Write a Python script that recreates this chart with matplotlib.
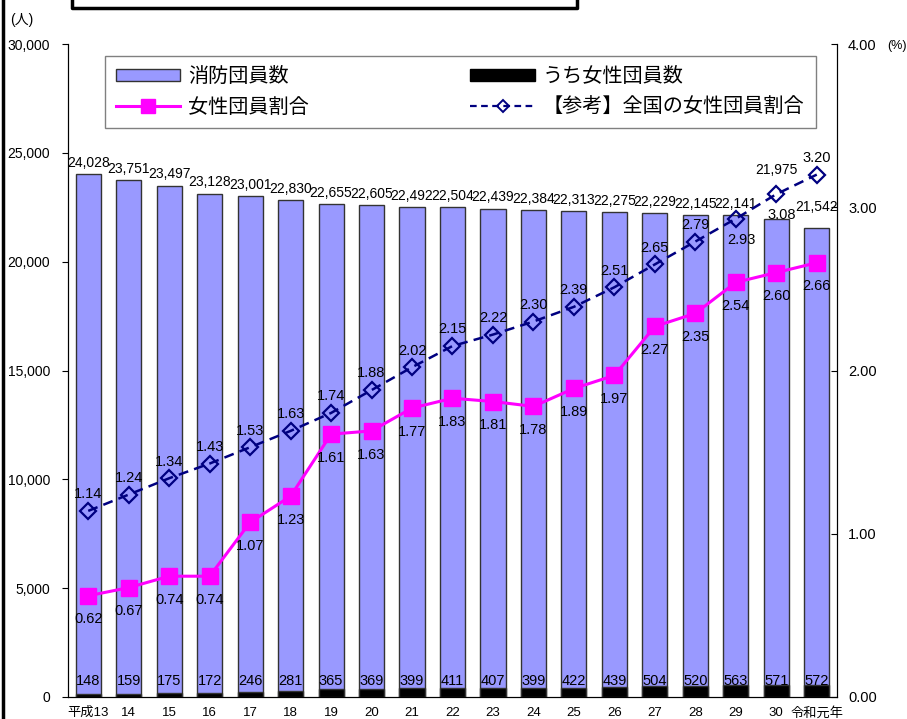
import matplotlib.pyplot as plt
from matplotlib.patches import Patch
from matplotlib.lines import Line2D

plt.rcParams['font.family'] = ['Liberation Sans', 'Noto Sans CJK JP']

# data
years = ['平成13', '14', '15', '16', '17', '18', '19', '20', '21', '22',
         '23', '24', '25', '26', '27', '28', '29', '30', '令和元年']
members = [24028, 23751, 23497, 23128, 23001, 22830, 22655, 22605, 22492, 22504,
           22439, 22384, 22313, 22275, 22229, 22145, 22141, 21975, 21542]
women = [148, 159, 175, 172, 246, 281, 365, 369, 399, 411,
         407, 399, 422, 439, 504, 520, 563, 571, 572]
women_ratio = [0.62, 0.67, 0.74, 0.74, 1.07, 1.23, 1.61, 1.63, 1.77, 1.83,
               1.81, 1.78, 1.89, 1.97, 2.27, 2.35, 2.54, 2.60, 2.66]
national_ratio = [1.14, 1.24, 1.34, 1.43, 1.53, 1.63, 1.74, 1.88, 2.02, 2.15,
                  2.22, 2.30, 2.39, 2.51, 2.65, 2.79, 2.93, 3.08, 3.20]

x = list(range(len(years)))

fig = plt.figure(figsize=(9.07, 7.19), dpi=100)
ax = fig.add_axes([68/907, 1 - 697/719, 769/907, 653/719])

ax.bar(x, members, width=0.62, color='#9999FF', edgecolor='#333333', linewidth=1)
ax.bar(x, women, width=0.62, color='black', edgecolor='#333333', linewidth=1)
ax.set_xlim(-0.5, len(years) - 0.5)
ax.set_ylim(0, 30000)
ax.set_yticks(range(0, 30001, 5000))
ax.set_yticklabels([f'{v:,}' for v in range(0, 30001, 5000)], fontsize=10)
ax.tick_params(axis='y', direction='out', length=4, pad=9)
ax.set_xticks(x)
ax.set_xticklabels(years, fontsize=9.5)
ax.tick_params(axis='x', length=0, pad=7)
ax.spines['top'].set_visible(False)

# total labels above bars
for i, v in enumerate(members):
    dy = 3
    if i == 17:
        dy = 30
    elif i == 18:
        dy = 10
    ax.annotate(f'{v:,}', (i, v), xytext=(0, dy), textcoords='offset points',
                ha='center', va='bottom', fontsize=10)
# women count labels near bottom
for i, v in enumerate(women):
    ax.text(i, 750, str(v), ha='center', va='center', fontsize=10.5)

ax2 = ax.twinx()
ax2.set_ylim(0, 4)
ax2.set_yticks([0, 1, 2, 3, 4])
ax2.set_yticklabels(['0.00', '1.00', '2.00', '3.00', '4.00'], fontsize=10.5)
ax2.tick_params(axis='y', direction='in', length=4, pad=8)
ax2.spines['top'].set_visible(False)

ax2.plot(x, women_ratio, color='#FF00FF', linewidth=2.2, marker='s', markersize=11,
         markerfacecolor='#FF00FF', markeredgecolor='#FF00FF')
ax2.plot(x, national_ratio, color='#000080', linewidth=1.8, linestyle=(0, (4, 2.5)),
         marker='D', markersize=8, markerfacecolor='none', markeredgecolor='#000080',
         markeredgewidth=1.6)

for i, v in enumerate(women_ratio):
    ax2.annotate(f'{v:.2f}', (i, v), xytext=(0, -12), textcoords='offset points',
                 ha='center', va='top', fontsize=10.5)
for i, v in enumerate(national_ratio):
    if i in (16, 17):
        ax2.annotate(f'{v:.2f}', (i, v), xytext=(4, -10), textcoords='offset points',
                     ha='center', va='top', fontsize=10.5)
    else:
        ax2.annotate(f'{v:.2f}', (i, v), xytext=(0, 7), textcoords='offset points',
                     ha='center', va='bottom', fontsize=10.5)

handles = [Patch(facecolor='#9999FF', edgecolor='#333333'),
           Line2D([], [], color='#FF00FF', linewidth=2.2, marker='s', markersize=10),
           Patch(facecolor='black', edgecolor='black'),
           Line2D([], [], color='#000080', linewidth=1.6, linestyle=(0, (3, 2)),
                  marker='D', markersize=6, markerfacecolor='none', markeredgewidth=1.4)]
labels = ['消防団員数', '女性団員割合', 'うち女性団員数', '【参考】全国の女性団員割合']
leg = ax2.legend(handles, labels, ncol=2, loc='upper left',
                 bbox_to_anchor=(0.048, 0.982), fontsize=14.5,
                 frameon=True, fancybox=False, edgecolor='#808080', framealpha=1,
                 handlelength=3.2, handleheight=0.55, borderpad=0.55, labelspacing=0.6,
                 handletextpad=0.4, columnspacing=8.0, borderaxespad=0)
leg.get_frame().set_linewidth(1)

fig.text(10/907, 1 - 20/719, '(人)', fontsize=10, va='center')
fig.text(887/907, 1 - 46/719, '(%)', fontsize=9, va='center')

# frame pieces of the surrounding document
fig.add_artist(Line2D([3/907, 3/907], [0, 1], color='black', linewidth=2.5))
fig.add_artist(Line2D([72/907, 72/907, 577/907, 577/907], [1, 1 - 8/719, 1 - 8/719, 1],
                      color='black', linewidth=2.5))

fig.savefig('out.png', dpi=100)
